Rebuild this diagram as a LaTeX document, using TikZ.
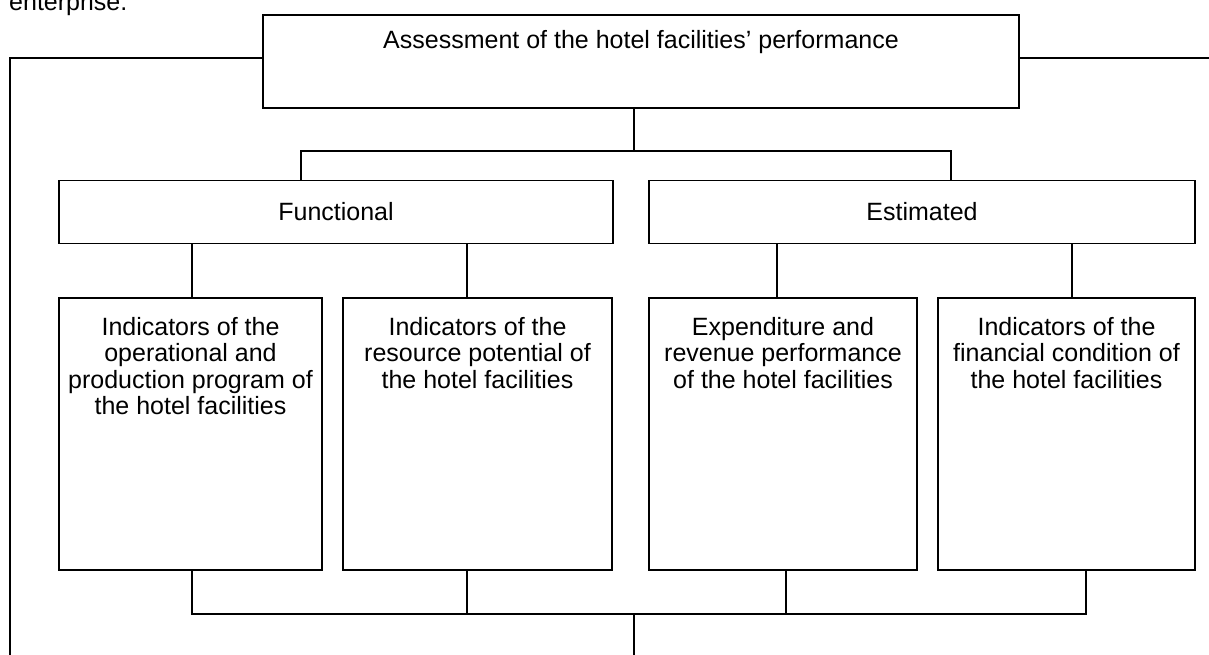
\documentclass[tikz,border=0pt]{standalone}
\usepackage{fontspec}
\setmainfont{Liberation Sans}
\usetikzlibrary{positioning, calc}

\begin{document}
\begin{tikzpicture}[
			x=1pt, y=-1pt,
			font=\fontsize{25}{26.5}\selectfont,
			box/.style={rectangle, draw, line width=1.8pt, inner sep=0pt},
			group/.style={box, minimum height=63},
			ind/.style={box, minimum height=272},
			boxtext/.style={align=center, inner sep=0pt},
			link/.style={line width=1.8pt}
		]
		\useasboundingbox (0,0) rectangle (1209,655);
		\node[anchor=base west, inner sep=0pt] (note) at (9,11) {enterprise.};
		
		\node[box, minimum width=756, minimum height=93,
			label={[boxtext, below=16pt]north:Assessment of the hotel facilities’ performance}] (title) at (641,61.5) {};
		\node[group, minimum width=554] (func) at (336,212) {Functional};
		\node[group, minimum width=546] (est) at (922,212) {Estimated};
		
		\node[ind, minimum width=263, label={[boxtext, below=20pt]north:Indicators of the\\operational and\\production program of\\the hotel facilities}] (i1) at (190.5,434) {};
		\node[ind, minimum width=269, label={[boxtext, below=20pt]north:Indicators of the\\resource potential of\\the hotel facilities}] (i2) at (477.5,434) {};
		\node[ind, minimum width=268, label={[boxtext, below=20pt]north:Expenditure and\\revenue performance\\of the hotel facilities}] (i3) at (783,434) {};
		\node[ind, minimum width=257, label={[boxtext, below=20pt]north:Indicators of the\\financial condition of\\the hotel facilities}] (i4) at (1066.5,434) {};
		
		\coordinate (split) at (634,151);
		\coordinate (fjoin) at (301,151);
		\coordinate (ejoin) at (951,151);
		\coordinate (merge) at (634,613);
		\coordinate (out) at (634,655);
		\coordinate (lfoot) at (10,655);
		\coordinate (redge) at (1209,58);
		
		% side lines off the title box
		\draw[link] ([yshift=3.5]title.west) -| (lfoot);
		\draw[link] ([yshift=3.5]title.east) -- (redge);
		
		% title down to the two groups
		\draw[link] (title.south -| split) -- (split);
		\draw[link] (fjoin |- func.north) -- (fjoin) -- (ejoin) -- (ejoin |- est.north);
		
		% groups down to the indicator boxes
		\draw[link] ([xshift=1.5]i1.north) -- ([xshift=1.5]i1.north |- func.south);
		\draw[link] ([xshift=-10.5]i2.north) -- ([xshift=-10.5]i2.north |- func.south);
		\draw[link] ([xshift=-6]i3.north) -- ([xshift=-6]i3.north |- est.south);
		\draw[link] ([xshift=5.5]i4.north) -- ([xshift=5.5]i4.north |- est.south);
		
		% indicator boxes joined below
		\draw[link] ([xshift=1.5]i1.south) -- ++(0,43) -| ([xshift=19.5]i4.south);
		\draw[link] ([xshift=-10.5]i2.south) -- ([xshift=-10.5]i2.south |- merge);
		\draw[link] ([xshift=3]i3.south) -- ([xshift=3]i3.south |- merge);
		\draw[link] (merge) -- (out);
\end{tikzpicture}
\end{document}
